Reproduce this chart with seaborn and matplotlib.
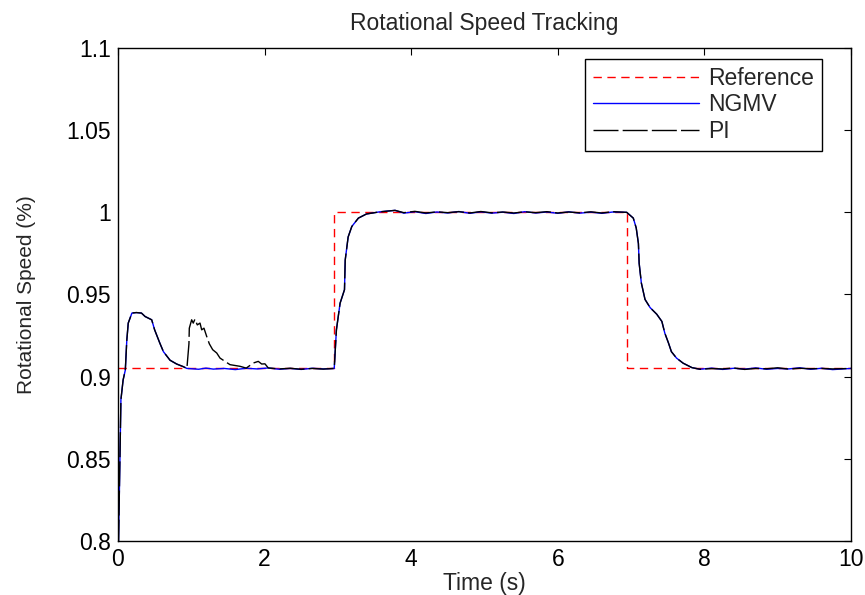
import numpy as np
import pandas as pd
import matplotlib
matplotlib.use("Agg")
import matplotlib.pyplot as plt
import seaborn as sns

# reference set-point (step changes)
ref_t = [0.0, 2.95, 6.95, 10.0]
ref_y = [0.905, 1.0, 0.905, 0.905]

# shared pieces of the two responses
start_t = [0.0, 0.04, 0.07, 0.10, 0.12, 0.14, 0.19, 0.25, 0.32, 0.37, 0.46, 0.50,
           0.57, 0.62, 0.71, 0.80, 0.89, 0.94]
start_y = [0.78, 0.886, 0.898, 0.904, 0.922, 0.9326, 0.9387, 0.939, 0.9387, 0.9366,
           0.9346, 0.9285, 0.9205, 0.9152, 0.910, 0.9077, 0.9061, 0.905]

rise_t = [2.98, 3.03, 3.09, 3.10, 3.14, 3.19, 3.28, 3.39, 3.57, 3.78]
rise_y = [0.9285, 0.9447, 0.9529, 0.971, 0.985, 0.9914, 0.9965, 0.999, 1.0003, 1.0012]

plateau_t = [3.9, 4.05, 4.2, 4.35, 4.5, 4.65, 4.8, 4.95, 5.1, 5.25, 5.4, 5.55, 5.7,
             5.85, 6.0, 6.15, 6.3, 6.45, 6.6, 6.75, 6.94]
ngmv_plateau = [0.9995, 1.0004, 0.9993, 1.0002, 0.9996, 1.0005, 0.9994, 1.0003,
                0.9995, 1.0001, 0.9993, 1.0004, 0.9996, 1.0002, 0.9994, 1.0003,
                0.9995, 1.0001, 0.9994, 1.0002, 1.0]
pi_plateau = [0.9998, 1.0006, 0.9996, 1.0003, 0.9998, 1.0004, 0.9996, 1.0005,
              0.9997, 1.0002, 0.9996, 1.0003, 0.9998, 1.0004, 0.9996, 1.0002,
              0.9997, 1.0003, 0.9996, 1.0004, 1.0]

fall_t = [7.03, 7.07, 7.10, 7.11, 7.14, 7.19, 7.26, 7.35, 7.42, 7.46, 7.51, 7.55,
          7.62, 7.71, 7.83, 7.94]
fall_y = [0.9965, 0.9905, 0.981, 0.969, 0.957, 0.947, 0.942, 0.938, 0.9336, 0.9265,
          0.9205, 0.9152, 0.9113, 0.9082, 0.9055, 0.9045]

tail_t = [8.1, 8.25, 8.4, 8.55, 8.7, 8.85, 9.0, 9.15, 9.3, 9.45, 9.6, 9.75, 10.0]
ngmv_tail = [0.9052, 0.9044, 0.9051, 0.9046, 0.9053, 0.9045, 0.9050, 0.9047, 0.9054,
             0.9045, 0.9051, 0.9043, 0.905]
pi_tail = [0.9049, 0.9047, 0.9053, 0.9044, 0.9050, 0.9048, 0.9054, 0.9046, 0.9051,
           0.9048, 0.9050, 0.9047, 0.905]

# NGMV settles straight onto the set-point
ngmv_base_t = [1.1, 1.2, 1.3, 1.45, 1.6, 1.75, 1.9, 2.05, 2.2, 2.35, 2.5, 2.65, 2.8, 2.95]
ngmv_base_y = [0.9045, 0.9052, 0.9046, 0.9050, 0.9043, 0.9051, 0.9047, 0.9053,
               0.9045, 0.9050, 0.9044, 0.9051, 0.9047, 0.905]

# PI has a second bump after ~1 s
pi_bump_t = [0.968, 0.973, 1.005, 1.027, 1.05, 1.082, 1.119, 1.142, 1.173, 1.21, 1.246,
             1.292, 1.347, 1.392, 1.46, 1.528, 1.664, 1.75, 1.846, 1.914, 1.96, 2.005,
             2.05, 2.2, 2.35, 2.5, 2.65, 2.8, 2.95]
pi_bump_y = [0.920, 0.9295, 0.9346, 0.9326, 0.935, 0.9315, 0.9326, 0.9285, 0.9295,
             0.9245, 0.920, 0.9164, 0.9144, 0.9113, 0.9093, 0.9073, 0.9063, 0.9052,
             0.9083, 0.9093, 0.9077, 0.9078, 0.9053, 0.9047, 0.9051, 0.9045, 0.9050,
             0.9046, 0.905]

ngmv_t = start_t + ngmv_base_t + rise_t + plateau_t + fall_t + tail_t
ngmv_y = start_y + ngmv_base_y + rise_y + ngmv_plateau + fall_y + ngmv_tail
pi_t = start_t + pi_bump_t + rise_t + plateau_t + fall_t + tail_t
pi_y = start_y + pi_bump_y + rise_y + pi_plateau + fall_y + pi_tail

xticks = [0, 2, 4, 6, 8, 10]
yticks = [0.8, 0.85, 0.9, 0.95, 1.0, 1.05, 1.1]
ytick_labels = ["0.8", "0.85", "0.9", "0.95", "1", "1.05", "1.1"]

sns.set_style("white")
plt.rcParams['font.family'] = ['Liberation Sans', 'DejaVu Sans']

fig = plt.figure(figsize=(8.65, 5.95), dpi=100)
ax = fig.add_axes([0.1364, 0.0908, 0.8474, 0.8285])

ref = pd.DataFrame({"t": ref_t, "y": ref_y})
ngmv = pd.DataFrame({"t": ngmv_t, "y": ngmv_y})
pi = pd.DataFrame({"t": pi_t, "y": pi_y})

sns.lineplot(data=ref, x="t", y="y", ax=ax, color="#ff0000", lw=1.0,
             drawstyle="steps-post", linestyle=(0, (6, 4)), label="Reference",
             sort=False, estimator=None)
sns.lineplot(data=ngmv, x="t", y="y", ax=ax, color="#0000ff", lw=1.0,
             label="NGMV", sort=False, estimator=None)
sns.lineplot(data=pi, x="t", y="y", ax=ax, color="black", lw=1.0,
             linestyle=(0, (18, 3)), label="PI", sort=False, estimator=None)

ax.set_xlim(0, 10)
ax.set_ylim(0.8, 1.1)
ax.set_xticks(xticks)
ax.set_xticklabels([str(v) for v in xticks])
ax.set_yticks(yticks)
ax.set_yticklabels(ytick_labels)
ax.tick_params(direction="in", length=5, width=0.8, top=True, right=True,
               labelsize=16.5, colors="black", pad=5)
for s in ax.spines.values():
    s.set_color("black")
    s.set_linewidth(1.0)

ax.set_title("Rotational Speed Tracking", fontsize=16.5, pad=13)
ax.set_xlabel("Time (s)", fontsize=16.5, labelpad=1)
ax.set_ylabel("Rotational Speed (%)", fontsize=15, labelpad=22)

leg = ax.legend(loc="upper right", bbox_to_anchor=(0.9604, 0.9777), borderaxespad=0,
                fontsize=16.5, handlelength=4.6, handletextpad=0.4, labelspacing=0.15,
                fancybox=False, framealpha=1, edgecolor="black", borderpad=0.35)
leg.get_frame().set_linewidth(1.0)

fig.savefig("out.png", dpi=100)
